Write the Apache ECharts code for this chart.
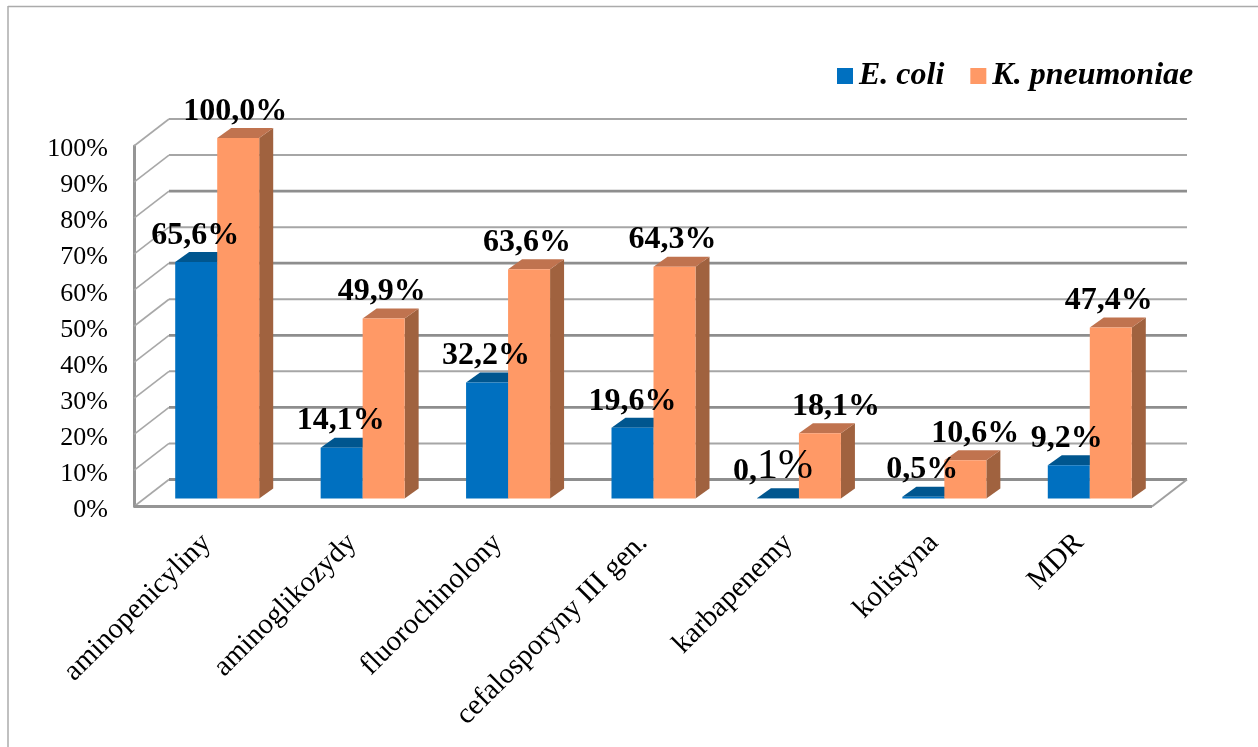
<!DOCTYPE html>
<html><head><meta charset="utf-8">
<style>html,body{margin:0;padding:0;background:#fff}#c{width:1258px;height:747px}</style>
<script src="https://cdn.jsdelivr.net/npm/echarts@6/dist/echarts.min.js"></script>
</head><body><div id="c"></div>
<script>
const categories = ['aminopenicyliny','aminoglikozydy','fluorochinolony','cefalosporyny III gen.','karbapenemy','kolistyna','MDR'];
const ecoli = [65.6,14.1,32.2,19.6,0.1,0.5,9.2];
const kpneu = [100.0,49.9,63.6,64.3,18.1,10.6,47.4];
const yTicks = [0,10,20,30,40,50,60,70,80,90,100];
const ecoliNudge = [-1,-1,-1,0,-5,-1,-2];
const kpneuNudge = [-3,-2,-2,-2,16,10,-2];

const FONT = '"Liberation Serif","Times New Roman",serif';
const WALL_DX = 35, WALL_DY = -27;      // back wall offset
const BAR_DX = 10.5, BAR_DY = -8;       // bars stand in the middle of the floor
const DEPTH_DX = 14, DEPTH_DY = -10;    // bar depth
const BAR_W = 42;

function poly(pts, fill){ return {type:'polygon', shape:{points:pts}, style:{fill:fill}, silent:true}; }

function gridRender(params, api){
  const cs = params.coordSys, v = api.value(1);
  const y = api.coord([0,v])[1], x0 = cs.x, x1 = cs.x + cs.width;
  const heavy = v % 20 === 0 && v !== 100;
  return {type:'group', silent:true, children:[
    {type:'polyline', shape:{points:[[x0,y],[x0+WALL_DX,y+WALL_DY]]},
      style:{stroke:'#a8a8a8',lineWidth:1.6,fill:null}},
    {type:'line', shape:{x1:x0+WALL_DX,y1:y+WALL_DY,x2:x1+WALL_DX,y2:y+WALL_DY},
      style:{stroke:heavy?'#8e8e8e':'#a6a6a6',lineWidth:heavy?2.8:2}}
  ].concat(v===0?[{type:'line',shape:{x1:x1,y1:y,x2:x1+WALL_DX,y2:y+WALL_DY},
      style:{stroke:'#a0a0a0',lineWidth:2}},
      {type:'line',shape:{x1:x0,y1:y,x2:x1,y2:y},style:{stroke:'#959595',lineWidth:3}}]:[])};
}

function barRender(side, front, top, dark){
  return function(params, api){
    const p = api.coord([api.value(0), api.value(1)]);
    const b = api.coord([api.value(0), 0]);
    const xl = p[0] + BAR_DX + (side<0 ? -BAR_W : 0), xr = xl + BAR_W;
    const yt = p[1] + BAR_DY, yb = b[1] + BAR_DY;
    return {type:'group', silent:true, children:[
      poly([[xr,yt],[xr+DEPTH_DX,yt+DEPTH_DY],[xr+DEPTH_DX,yb+DEPTH_DY],[xr,yb]], dark),
      poly([[xl,yt],[xl+DEPTH_DX,yt+DEPTH_DY],[xr+DEPTH_DX,yt+DEPTH_DY],[xr,yt]], top),
      {type:'rect', shape:{x:xl,y:yt,width:BAR_W,height:yb-yt}, style:{fill:front}, silent:true}
    ]};
  };
}

function labelRender(side, nudges){
  return function(params, api){
    const i = api.value(0), v = api.value(1);
    const p = api.coord([i, v]);
    const x = p[0] + BAR_DX + side*BAR_W/2 + nudges[i], y = p[1] + BAR_DY - 26.5;
    const txt = v.toFixed(1).replace('.',',') + '%';
    const style = {x:x, y:y, align:'center', verticalAlign:'middle', fill:'#000',
      font:'bold 32px '+FONT};
    if (v === 0.1) {
      style.y = y - 5;
      style.text = '{a|0,}{b|1%}';
      style.rich = {a:{font:'bold 32px '+FONT, fill:'#000', verticalAlign:'bottom'},
                    b:{font:'42px '+FONT, fill:'#000', verticalAlign:'bottom'}};
    } else style.text = txt;
    return {type:'text', style:style, silent:true};
  };
}

function rows(vals){ return vals.map((v,i)=>[i,v]); }

const chart = echarts.init(document.getElementById('c'), null, {renderer:'canvas'});
chart.setOption({
  animation:false,
  backgroundColor:'#fff',
  graphic:[
    {type:'line',shape:{x1:8,y1:6.5,x2:1258,y2:6.5},style:{stroke:'#ababab',lineWidth:1.5},silent:true},
    {type:'line',shape:{x1:8,y1:6,x2:8,y2:747},style:{stroke:'#ababab',lineWidth:1.5},silent:true}
  ],
  legend:{
    left:837, top:60, padding:0, itemWidth:16, itemHeight:16, itemGap:26, icon:'rect',
    data:['E. coli','K. pneumoniae'],
    textStyle:{fontFamily:FONT,fontSize:32,fontWeight:'bold',fontStyle:'italic',color:'#000',padding:[1,0,0,1]},
    selectedMode:false
  },
  grid:{left:134,top:146,width:1018,height:360.5},
  xAxis:{type:'category',data:categories,boundaryGap:true,
    axisLine:{show:false},axisTick:{show:false},splitLine:{show:false},
    axisLabel:{interval:0,rotate:45,margin:32,fontFamily:FONT,fontSize:29,color:'#000'}},
  yAxis:{type:'value',min:0,max:100,interval:10,
    axisLine:{show:true,lineStyle:{color:'#959595',width:3}},axisTick:{show:false},splitLine:{show:false},
    axisLabel:{margin:26,fontFamily:FONT,fontSize:26,color:'#000',
      formatter:'{n|{value}%}',rich:{n:{fontFamily:FONT,fontSize:26,color:'#000',padding:[7,0,0,0]}}}},
  series:[
    {name:'walls',type:'custom',z:1,data:yTicks.map(v=>[0,v]),renderItem:gridRender,silent:true},
    {name:'E. coli',type:'custom',z:2,data:rows(ecoli),itemStyle:{color:'#0070C0'},
      renderItem:barRender(-1,'#0070C0','#00568F','#00568F'),silent:true},
    {name:'K. pneumoniae',type:'custom',z:3,data:rows(kpneu),itemStyle:{color:'#FF9966'},
      renderItem:barRender(1,'#FF9966','#C0734F','#A0623F'),silent:true},
    {name:'lab1',type:'custom',z:5,data:rows(ecoli),renderItem:labelRender(-1,ecoliNudge),silent:true},
    {name:'lab2',type:'custom',z:5,data:rows(kpneu),renderItem:labelRender(1,kpneuNudge),silent:true}
  ]
});
</script></body></html>
